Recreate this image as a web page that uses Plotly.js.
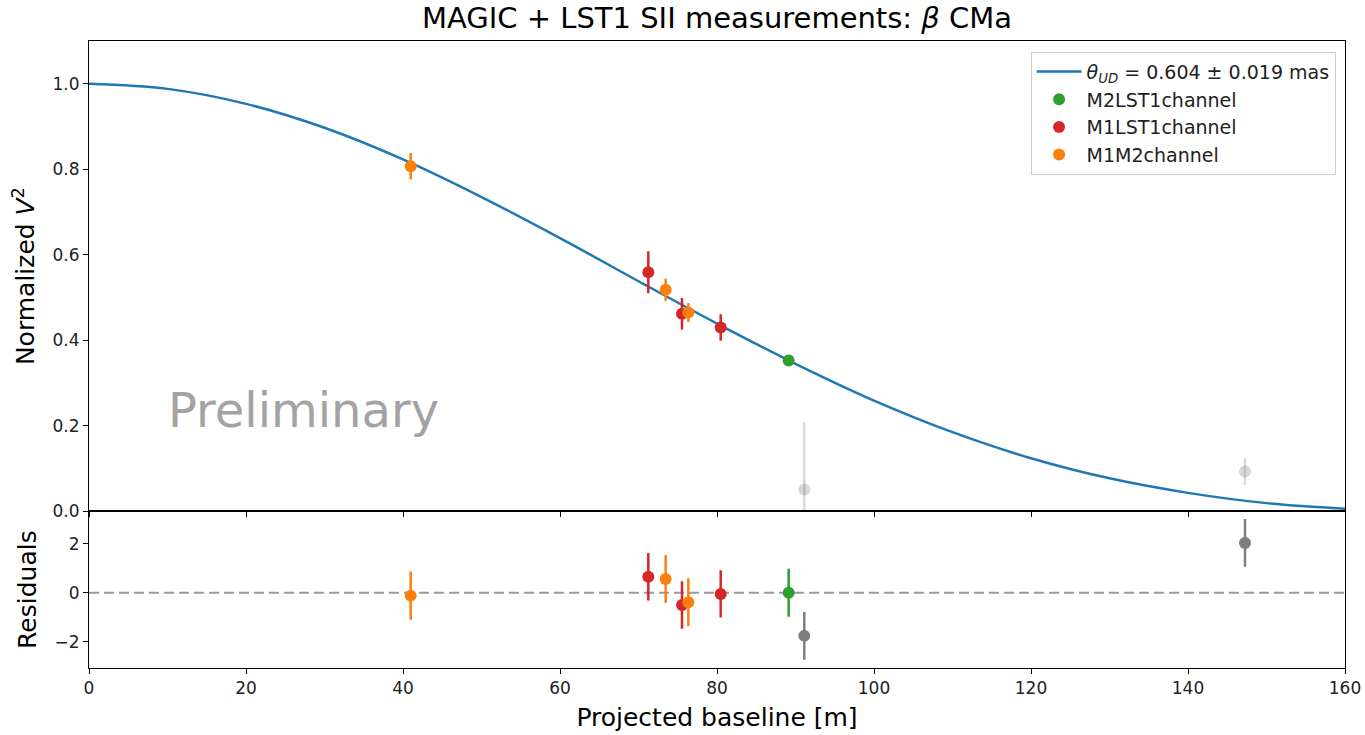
<!DOCTYPE html>
<html>
<head>
<meta charset="utf-8">
<script src="https://cdn.plot.ly/plotly-3.0.1.min.js"></script>
<style>html,body{margin:0;padding:0;background:#fff;}#chart{width:1365px;height:735px;}</style>
</head>
<body>
<div id="chart"></div>
<script>
// ---- data ----
const fitBaseline = [0,10,20,30,40,50,60,70,80,90,100,110,120,130,140,150,160];
const fitV2 = [1.000,0.988,0.953,0.897,0.823,0.735,0.639,0.538,0.439,0.345,0.259,0.185,0.124,0.077,0.043,0.019,0.006];

const m2lst1Baseline = [89.13];
const m2lst1V2 = [0.3525];
const m2lst1Err = [0.010];
const m2lst1Res = [0.00];
const m2lst1ResErr = [0.98];

const m1lst1Baseline = [71.25, 75.54, 80.47];
const m1lst1V2 = [0.559, 0.462, 0.430];
const m1lst1Err = [0.049, 0.037, 0.031];
const m1lst1Res = [0.65, -0.50, -0.05];
const m1lst1ResErr = [0.97, 0.97, 0.96];

const m1m2Baseline = [40.98, 73.46, 76.35];
const m1m2V2 = [0.807, 0.518, 0.465];
const m1m2Err = [0.031, 0.026, 0.022];
const m1m2Res = [-0.12, 0.56, -0.39];
const m1m2ResErr = [0.98, 0.98, 0.98];

const excludedBaseline = [91.12, 147.26];
const excludedV2 = [0.051, 0.093];
const excludedErr = [0.157, 0.031];
const excludedRes = [-1.76, 2.03];
const excludedResErr = [0.97, 0.97];

const fitLabel = '<i>θ</i><sub><i>UD</i></sub> = 0.604 ± 0.019 mas';
const xTicks = [0,20,40,60,80,100,120,140,160];
const yTicksTop = [0,0.2,0.4,0.6,0.8,1.0];
const yTicksRes = [-2,0,2];

// ---- styling ----
const C_BLUE='#1f77b4', C_GREEN='#2ca02c', C_RED='#d62728', C_ORANGE='#ff7f0e', C_GRAY='#7f7f7f', C_LGRAY='rgba(127,127,127,0.3)';

function pts(x, y, err, color, name, xa, ya, show, group){
  return {
    type:'scatter', mode:'markers', x:x, y:y, name:name, xaxis:xa, yaxis:ya,
    showlegend:show, legendgroup:group, cliponaxis:true,
    marker:{color:color, size:12, line:{width:0}},
    error_y:{type:'data', array:err, visible:true, color:color, thickness:2.5, width:0}
  };
}

const traces = [
  {type:'scatter', mode:'lines', x:fitBaseline, y:fitV2, name:fitLabel, xaxis:'x', yaxis:'y',
   legendgroup:'g0', line:{color:C_BLUE, width:2.5, shape:'spline', smoothing:1}},
  pts(m2lst1Baseline, m2lst1V2, m2lst1Err, C_GREEN, 'M2LST1channel', 'x', 'y', true, 'g1'),
  pts(m1lst1Baseline, m1lst1V2, m1lst1Err, C_RED, 'M1LST1channel', 'x', 'y', true, 'g2'),
  pts(m1m2Baseline, m1m2V2, m1m2Err, C_ORANGE, 'M1M2channel', 'x', 'y', true, 'g3'),
  pts(excludedBaseline, excludedV2, excludedErr, C_LGRAY, 'excluded', 'x', 'y', false, 'g4'),
  pts(m2lst1Baseline, m2lst1Res, m2lst1ResErr, C_GREEN, 'M2LST1channel', 'x2', 'y2', false, 'g1'),
  pts(m1lst1Baseline, m1lst1Res, m1lst1ResErr, C_RED, 'M1LST1channel', 'x2', 'y2', false, 'g2'),
  pts(m1m2Baseline, m1m2Res, m1m2ResErr, C_ORANGE, 'M1M2channel', 'x2', 'y2', false, 'g3'),
  pts(excludedBaseline, excludedRes, excludedResErr, C_GRAY, 'excluded', 'x2', 'y2', false, 'g4')
];

const axisCommon = {
  ticks:'outside', ticklen:5, tickwidth:1, tickcolor:'black',
  showline:true, mirror:true, linecolor:'black', linewidth:1,
  showgrid:false, zeroline:false, tickfont:{size:17, color:'#222'}
};

const layout = {
  width:1365, height:735,
  margin:{l:89, r:20, t:41, b:67},
  paper_bgcolor:'white', plot_bgcolor:'white',
  font:{family:'DejaVu Sans, sans-serif', color:'black'},
  title:{text:'MAGIC + LST1 SII measurements: <i>β</i> CMa', font:{size:29, color:'black'},
         x:0.5, xref:'paper', xanchor:'center', y:1-18/735, yref:'container', yanchor:'middle'},
  xaxis:Object.assign({}, axisCommon, {domain:[0,1], anchor:'y', range:[0,160], tickvals:xTicks, showticklabels:false}),
  yaxis:Object.assign({}, axisCommon, {domain:[0.25,1], anchor:'x', range:[0,1.1], tickvals:yTicksTop, tickformat:'.1f',
         title:{text:'Normalized <i>V</i><sup>2</sup>', font:{size:25}, standoff:10}}),
  xaxis2:Object.assign({}, axisCommon, {domain:[0,1], anchor:'y2', range:[0,160], tickvals:xTicks,
         title:{text:'Projected baseline [m]', font:{size:25}, standoff:11}}),
  yaxis2:Object.assign({}, axisCommon, {domain:[0,0.25], anchor:'x2', range:[-3.07,3.32], tickvals:yTicksRes,
         title:{text:'Residuals', font:{size:25}, standoff:10}}),
  legend:{x:0.9925, xanchor:'right', y:0.983, yanchor:'top', bgcolor:'rgba(255,255,255,0.85)',
          bordercolor:'#cccccc', borderwidth:1, font:{size:19, color:'#222'},
          traceorder:'grouped', tracegroupgap:0, itemwidth:45},
  shapes:[{type:'line', xref:'x2 domain', yref:'y2', x0:0, x1:1, y0:0, y1:0, layer:'below',
           line:{color:'#999999', width:2, dash:'10px,5px'}}],
  annotations:[{x:27.3, y:0.237, xref:'x', yref:'y', text:'Preliminary', showarrow:false,
                font:{size:48, color:'#a3a3a3'}}]
};

Plotly.newPlot('chart', traces, layout, {displayModeBar:false, staticPlot:true});
</script>
</body>
</html>
